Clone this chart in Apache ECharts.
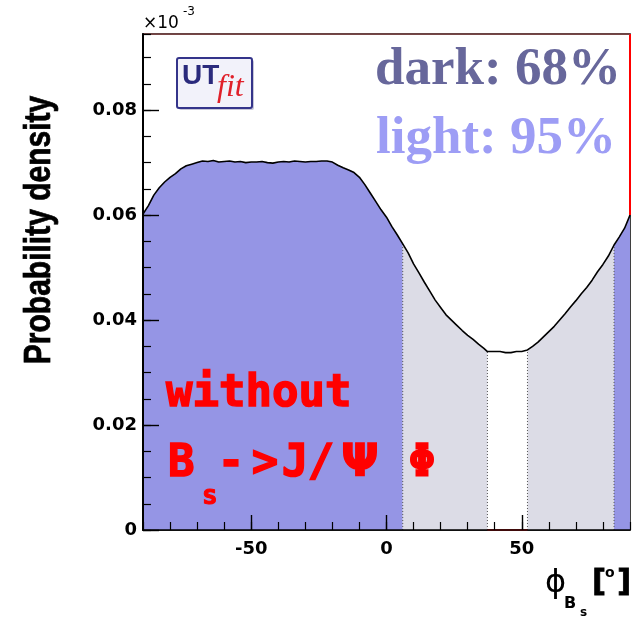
<!DOCTYPE html>
<html>
<head>
<meta charset="utf-8">
<script src="https://cdn.jsdelivr.net/npm/echarts@6/dist/echarts.min.js"></script>
<style>
html,body{margin:0;padding:0;background:#fff;}
#chart{width:636px;height:619px;}
</style>
</head>
<body>
<div id="chart"></div>
<script>
// ---- data ----
const phiDeg = [-90,-88,-86,-84,-82,-80,-78,-76,-74,-72,-70,-68,-66,-64,-62,-60,-58,-56,-54,-52,-50,-48,-46,-44,-42,-40,-38,-36,-34,-32,-30,-28,-26,-24,-22,-20,-18,-16,-14,-12,-10,-8,-6,-4,-2,0,2,4,6,8,10,12,14,16,18,20,22,24,26,28,30,32,34,36,37.3,40,42,44,46,48,50,52.1,54,56,58,60,62,64,66,68,70,72,74,76,78,80,82,84.1,86,88,90];
const density = [0.0602,0.0618,0.0638,0.0652,0.0663,0.0672,0.0679,0.0688,0.0694,0.0697,0.0700,0.0703,0.0702,0.0704,0.0701,0.0702,0.0703,0.0701,0.0702,0.0700,0.0701,0.0701,0.0702,0.0700,0.0699,0.0701,0.0702,0.0701,0.0703,0.0702,0.0701,0.0702,0.0702,0.0703,0.0703,0.0701,0.0695,0.0690,0.0686,0.0681,0.0672,0.0658,0.0642,0.0626,0.0610,0.0596,0.0578,0.0562,0.0545,0.0528,0.0507,0.0490,0.0472,0.0455,0.0438,0.0424,0.0410,0.0400,0.0390,0.0380,0.0371,0.0363,0.0354,0.0346,0.0340,0.0340,0.0340,0.0338,0.0338,0.0340,0.0340,0.0343,0.0350,0.0358,0.0368,0.0378,0.0388,0.0400,0.0412,0.0425,0.0437,0.0450,0.0462,0.0476,0.0492,0.0506,0.0522,0.0543,0.0558,0.0575,0.0600];
// interval boundaries (degrees) and the fill of each interval
const bounds = [-90, 6, 37.3, 52.1, 84.1, 90];
const regionFill = ['dark', 'light', 'none', 'light', 'dark'];
const xTickMajor = [-50, 0, 50];
const yTickMajor = [0, 0.02, 0.04, 0.06, 0.08];
const xMin = -90, xMax = 90, yMin = 0, yMax = 0.0945;

// ---- styles ----
const colors = { dark: '#9595e5', light: '#dcdce6' };

const curve = phiDeg.map((x, i) => [x, density[i]]);
function densityAt(x) { return density[phiDeg.indexOf(x)]; }

const series = [];
regionFill.forEach((f, i) => {
  if (f === 'none') return;
  const a = bounds[i], b = bounds[i + 1];
  series.push({
    type: 'line', data: curve.filter(p => p[0] >= a && p[0] <= b),
    symbol: 'none', lineStyle: { width: 0 }, areaStyle: { color: colors[f], opacity: 1 },
    z: 1, silent: true, animation: false
  });
});
bounds.slice(1, -1).forEach(b => {
  series.push({
    type: 'line', data: [[b, 0], [b, densityAt(b)]], symbol: 'none',
    lineStyle: { color: '#555', width: 1, type: [1, 2] }, z: 2, animation: false
  });
});
series.push({
  type: 'line', data: curve, symbol: 'none',
  lineStyle: { color: '#000', width: 1.6 }, z: 3, animation: false
});
// red histogram edges
series.push({
  type: 'line', data: [[xMax, densityAt(xMax)], [xMax, yMax]], symbol: 'none',
  lineStyle: { color: '#ff0000', width: 2 }, z: 4, animation: false
});
series.push({
  type: 'line', data: [[bounds[2], 0], [bounds[3], 0]], symbol: 'none',
  lineStyle: { color: '#ff2a2a', width: 2 }, z: 4, animation: false
});
series.push({
  type: 'line', data: [[xMin, yMax], [xMax, yMax]], symbol: 'none',
  lineStyle: { color: '#8a4848', width: 1.5 }, z: 4, animation: false
});

const labelFont = { fontFamily: 'DejaVu Sans', fontWeight: 'bold', fontSize: 18, color: '#000' };

function txt(x, y, text, style, extra) {
  return Object.assign({ type: 'text', x: x, y: y, z: 100,
    style: Object.assign({ text: text, verticalAlign: 'middle' }, style) }, extra || {});
}
const red = { fontFamily: 'DejaVu Sans Mono', fontWeight: 'bold', fontSize: 44, fill: '#ff0000', stroke: '#ff0000', lineWidth: 1.5 };
const redC = Object.assign({ align: 'center' }, red);

const option = {
  animation: false,
  grid: { left: 143, right: 6, top: 34, bottom: 89, show: true, borderColor: '#000', borderWidth: 1.5, backgroundColor: 'transparent' },
  xAxis: [{
    type: 'value', min: xMin, max: xMax, interval: 10, z: 10,
    axisLine: { show: true, onZero: false, lineStyle: { color: '#000', width: 1.5 } },
    axisTick: { show: true, inside: true, length: 8, lineStyle: { color: '#000', width: 1.2 } },
    axisLabel: Object.assign({ margin: 10, formatter: v => (Math.abs(v % 50) < 1e-9 ? String(v) : '') }, labelFont),
    splitLine: { show: false }
  }, {
    type: 'value', min: xMin, max: xMax, position: 'bottom', z: 10,
    axisLine: { show: false, onZero: false },
    axisTick: { show: true, inside: true, length: 15, customValues: xTickMajor, lineStyle: { color: '#000', width: 1.4 } },
    axisLabel: { show: false },
    splitLine: { show: false }
  }],
  yAxis: [{
    type: 'value', min: yMin, max: yMax, interval: 0.005, z: 10,
    axisLine: { show: true, onZero: false, lineStyle: { color: '#000', width: 2 } },
    axisTick: { show: true, inside: true, length: 8, lineStyle: { color: '#000', width: 1.2 } },
    axisLabel: Object.assign({ margin: 6, formatter: v => {
      const k = v / 0.02; return Math.abs(k - Math.round(k)) < 1e-6 ? String(Math.round(v * 100) / 100) : '';
    } }, labelFont),
    splitLine: { show: false }
  }, {
    type: 'value', min: yMin, max: yMax, position: 'left', z: 10,
    axisLine: { show: false, onZero: false },
    axisTick: { show: true, inside: true, length: 16, customValues: yTickMajor, lineStyle: { color: '#000', width: 1.4 } },
    axisLabel: { show: false },
    splitLine: { show: false }
  }],
  series: series,
  graphic: [
    // x10^-3
    txt(143, 24, '×10', { fontFamily: 'DejaVu Sans', fontSize: 17, fill: '#000' }),
    txt(183, 12, '-3', { fontFamily: 'DejaVu Sans', fontSize: 12, fill: '#000' }),
    // y title
    txt(40, 230, 'Probability density', { fontFamily: 'Liberation Sans', fontWeight: 'bold', fontSize: 30, fill: '#000', align: 'center', stroke: '#000', lineWidth: 0.6 },
      { rotation: Math.PI / 2, scaleY: 1.25 }),
    // x title
    txt(545, 584, 'ϕ', { fontFamily: 'DejaVu Sans', fontSize: 32, fill: '#000' }),
    txt(564, 604, 'B', { fontFamily: 'DejaVu Sans', fontWeight: 'bold', fontSize: 16, fill: '#000' }),
    txt(580, 613, 's', { fontFamily: 'DejaVu Sans', fontWeight: 'bold', fontSize: 12, fill: '#000' }),
    txt(592, 583, '[', { fontFamily: 'DejaVu Sans', fontWeight: 'bold', fontSize: 31, fill: '#000', stroke: '#000', lineWidth: 0.8 }),
    txt(605, 573, 'o', { fontFamily: 'DejaVu Sans', fontWeight: 'bold', fontSize: 14, fill: '#000' }),
    txt(617, 583, ']', { fontFamily: 'DejaVu Sans', fontWeight: 'bold', fontSize: 31, fill: '#000', stroke: '#000', lineWidth: 0.8 }),
    // confidence legend
    txt(375, 70, 'dark: 68%', { fontFamily: 'Liberation Serif', fontWeight: 'bold', fontSize: 53, fill: '#67679b' }),
    txt(376, 139, 'light: 95%', { fontFamily: 'Liberation Serif', fontWeight: 'bold', fontSize: 53, fill: '#9d9df5' }),
    // UTfit logo
    { type: 'rect', z: 99, shape: { x: 179, y: 60, width: 75, height: 50, r: 2 }, style: { fill: '#c8c8d8', stroke: null } },
    { type: 'rect', z: 99, shape: { x: 177, y: 58, width: 75, height: 50, r: 2 }, style: { fill: '#f2f2fa', stroke: '#34348a', lineWidth: 2 } },
    txt(182, 76, 'UT', { fontFamily: 'Liberation Sans', fontWeight: 'bold', fontSize: 28, fill: '#2a2a7c' }),
    txt(217, 88, 'fit', { fontFamily: 'Liberation Serif', fontStyle: 'italic', fontSize: 32, fill: '#e0202a' }),
    // red annotation
    txt(166, 395, 'without', red),
    txt(168, 465, 'B', red),
    txt(202, 497, 's', Object.assign({}, red, { fontSize: 26, lineWidth: 1 })),
    txt(231, 465, '-', redC),
    txt(265, 465, '>', redC),
    txt(295, 465, 'J', redC),
    txt(321, 465, '/', redC),
    txt(360, 465, 'Ψ', Object.assign({}, redC, { fontFamily: 'DejaVu Sans' })),
    txt(422, 465, 'Φ', redC)
  ]
};

const chart = echarts.init(document.getElementById('chart'), null, { renderer: 'canvas' });
chart.setOption(option);
</script>
</body>
</html>
